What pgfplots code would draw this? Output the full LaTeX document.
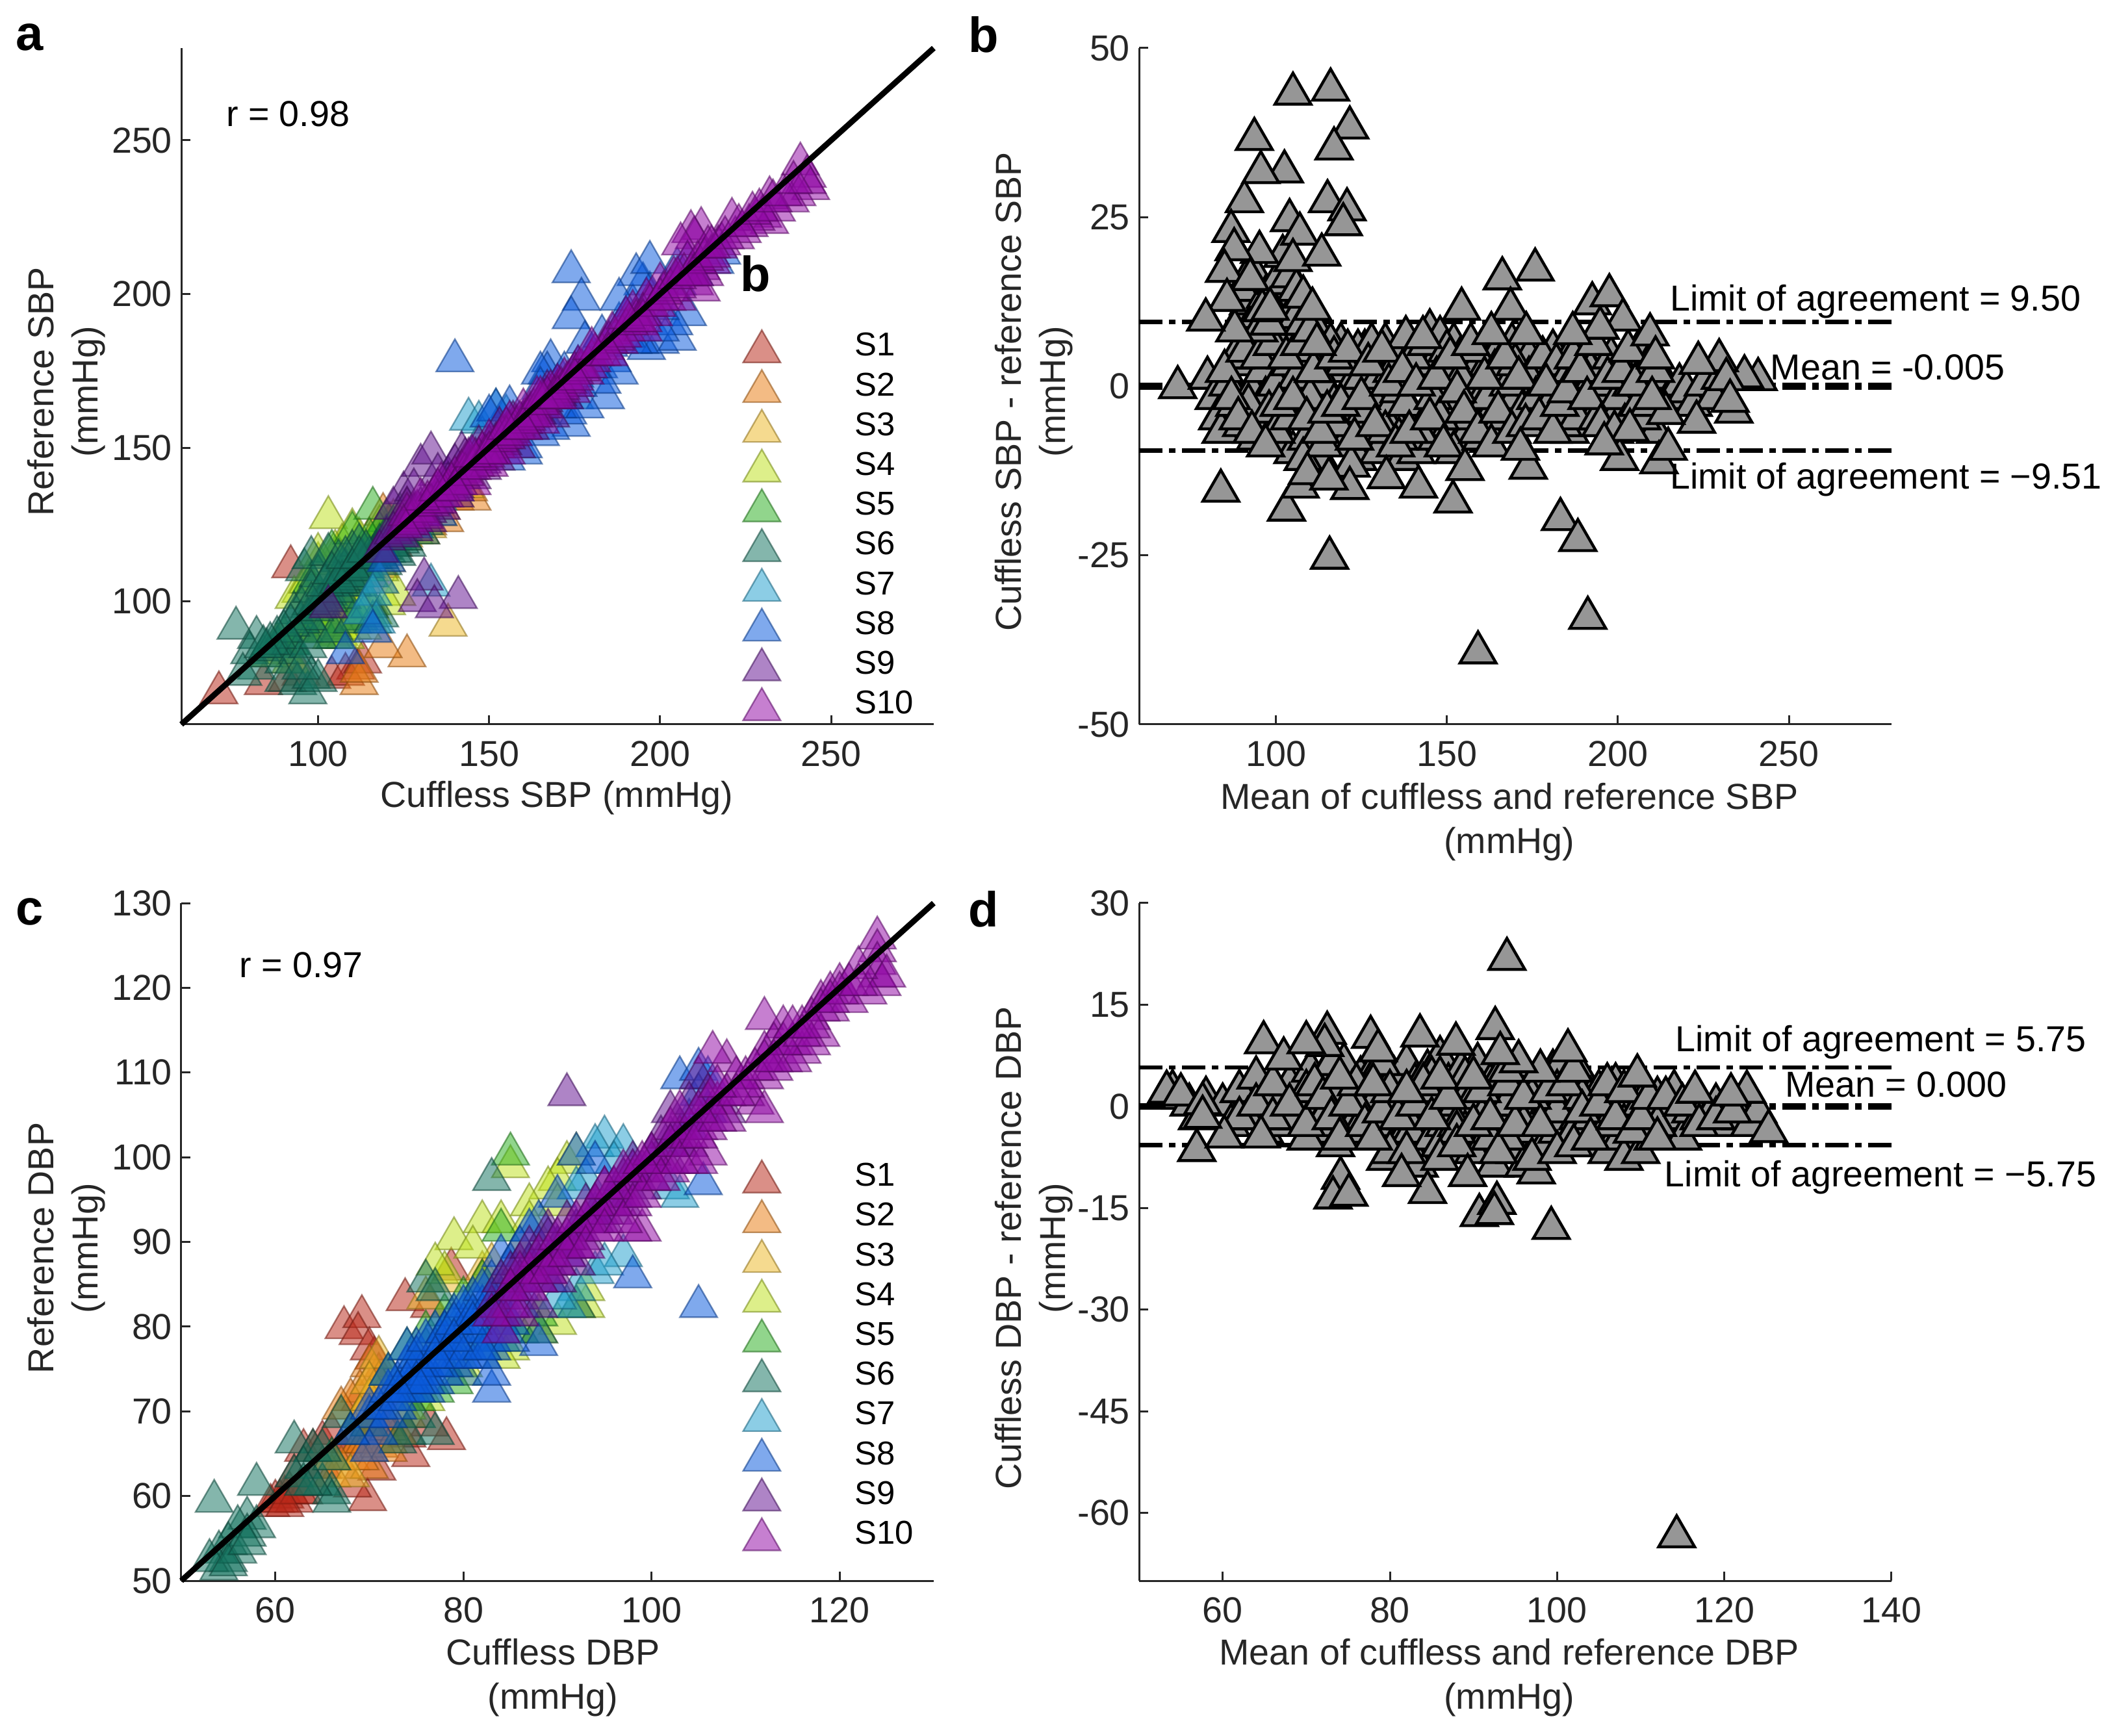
\documentclass[border=0pt]{standalone}
\usepackage{fontspec}
\setmainfont{Liberation Sans}
\usepackage{pgfplots}
\pgfplotsset{compat=1.18}
\definecolor{axc}{rgb}{0.15,0.15,0.15}
\definecolor{cA}{RGB}{185,40,25}
\definecolor{cB}{RGB}{232,125,20}
\definecolor{cC}{RGB}{235,185,40}
\definecolor{cD}{RGB}{190,225,30}
\definecolor{cE}{RGB}{45,175,35}
\definecolor{cF}{RGB}{20,115,95}
\definecolor{cG}{RGB}{35,160,205}
\definecolor{cH}{RGB}{10,90,220}
\definecolor{cI}{RGB}{100,20,145}
\definecolor{cJ}{RGB}{145,10,165}
\definecolor{gr}{RGB}{150,150,150}
\newcommand\fs{\fontsize{13.9}{17}\selectfont}
\tikzset{note/.style={font=\fs,text=black,inner sep=0pt},
  let/.style={font=\bfseries\fontsize{19}{22}\selectfont}}
\pgfplotsset{
  pan/.style={scale only axis,width=289.5pt,axis lines=left,axis line style={-,color=axc,line width=.75pt},
    tick align=inside,major tick length=3.5pt,tick style={color=axc,line width=.75pt},clip=false,clip marker paths=true,
    /pgf/number format/assume math mode=true,
    tick label style={font=\fs,text=axc},
    xticklabel style={yshift=-3pt},
    label style={font=\fs,text=axc,align=center},
    legend cell align=left},
  leg/.style={legend style={draw=none,fill=none,at={(rel axis cs:0.746,#1)},anchor=north west,font=\fontsize{12.7}{15}\selectfont,
    inner sep=0pt,row sep=0pt,column sep=28.5pt,nodes={inner sep=0pt,minimum height=15.3pt,anchor=west}}},
  ser/.style={only marks,mark=triangle*,mark size=8.3pt,color=#1,
    mark options={fill=#1,draw=#1!60!black,fill opacity=.52,draw opacity=.55,line width=.6pt,yshift=-2pt}},
  gry/.style={only marks,mark=triangle*,mark size=8pt,color=black,
    mark options={fill=gr,draw=black,line width=1.1pt,yshift=-2pt}},
  dd/.style={black,line width=#1,dash pattern=on 9pt off 2.5pt on 2.5pt off 2.5pt,no marks}
}
\begin{document}
\begin{tikzpicture}
\useasboundingbox (0,0) rectangle (809.5pt,667.75pt);
%% panel a
\begin{axis}[pan,at={(69.75pt,389pt)},anchor=south west,height=260.25pt,
  xmin=60,xmax=280,ymin=60,ymax=280,xtick={100,150,200,250},ytick={100,150,200,250},
  xlabel={Cuffless SBP (mmHg)},ylabel={Reference SBP\\(mmHg)},
  xlabel style={at={(axis description cs:.499,-.109)},anchor=center},
  ylabel style={at={(axis description cs:-.153,.492)},anchor=center},leg=0.589]
\addplot[ser=cA] coordinates {(71,72)(84,75)(92,113)(111,80)(104,77)(91,76)(95,78)(108,78)(100,100)(105,103)(112,110)(118,113)(122,120)(115,112)(98,96)(113,82)(118,108)(108,105)(126,132)(121,125)};
\addplot[ser=cB] coordinates {(126,84)(119,87)(112,75)(112,79)(113,108)(119,130)(121,127)(124,128)(128,130)(132,127)(136,132)(140,135)(145,135)(125,122)(137,128)(130,124)(144,138)};
\addplot[ser=cC] coordinates {(138,94)(110,112)(115,120)(118,126)(122,128)(125,123)(128,125)(135,130)(104,110)(100,93)(95,92)(108,105)(112,100)(120,115)(140,136)(143,139)(132,126)};
\addplot[ser=cD] coordinates {(103,129)(123,104)(110,125)(112,122)(107,120)(105,118)(100,114)(95,105)(93,103)(97,108)(100,117)(88,88)(90,85)(92,82)(95,92)(98,94)(103,97)(108,96)(110,93)(106,91)(114,96)(113,100)(116,98)(120,101)(110,105)(104,90)(102,92)(86,84)(108,114)(116,120)(122,124)(125,127)(128,124)(115,117)(118,112)(105,96)(107,93)(109,98)(111,95)(113,93)(115,101)(112,98)(108,90)(104,94)(110,100)};
\addplot[ser=cE] coordinates {(116,132)(120,128)(122,126)(124,130)(118,124)(96,92)(100,95)(108,100)(112,96)(114,112)(106,110)(102,102)(98,108)(104,118)(110,124)(115,122)(105,90)(92,88)(90,90)};
\addplot[ser=cF] coordinates {(76,93)(82,90)(80,85)(82,80)(78,78)(84,84)(85,86)(88,87)(92,88)(90,82)(94,85)(97,87)(90,76)(94,75)(97,72)(98,77)(100,76)(95,80)(100,90)(105,92)(110,95)(116,95)(118,97)(115,100)(112,107)(96,112)(98,116)(100,110)(95,100)(93,98)(103,117)(105,108)(108,112)(110,118)(113,115)(115,110)(118,120)(120,118)(122,122)(125,125)(128,126)(130,124)(126,120)(123,117)(119,114)(116,116)(112,120)(106,115)(103,104)(100,100)(98,105)(107,103)(110,107)(114,113)(117,118)(120,123)(124,121)(127,129)(131,127)(95,95)(97,96)(99,99)(101,101)(103,102)(105,105)(107,108)(109,109)(111,110)(113,113)(115,116)(117,117)(119,119)(121,120)(123,123)(125,122)(98,101)(102,107)(104,111)(106,108)(108,116)(110,112)(112,116)(114,118)(118,116)(122,118)(92,94)(90,92)(88,90)(86,88)(84,87)};
\addplot[ser=cG] coordinates {(144,161)(133,107)(147,160)(152,164)(148,155)(155,162)(118,108)(116,104)(117,95)(113,98)(140,140)(135,135)(128,126)(165,163)(175,168)};
\addplot[ser=cH] coordinates {(174,209)(177,200)(174,194)(140,180)(184,168)(174,159)(173,163)(160,150)(168,180)(167,176)(165,176)(170,172)(176,178)(180,182)(182,178)(186,180)(190,194)(192,198)(195,205)(197,202)(188,176)(196,184)(200,186)(205,187)(208,195)(204,192)(200,190)(194,186)(208,212)(205,210)(218,215)(216,212)(176,172)(172,168)(170,165)(168,158)(165,156)(156,165)(152,164)(150,162)(150,150)(155,148)(160,152)(145,148)(140,138)(135,130)(130,130)(120,115)(116,92)(108,85)(178,165)(183,173)(150,152)(155,155)(160,160)(165,165)(170,170)(175,175)(180,178)(185,185)(190,188)(195,195)(200,197)(205,205)(210,208)(165,171)(172,176)(178,186)(183,188)(188,192)(192,186)(193,208)(197,212)(188,200)};
\addplot[ser=cI] coordinates {(141,103)(131,109)(129,102)(134,100)(103,100)(125,137)(122,132)(130,146)(133,150)(135,143)(128,138)(126,132)(132,128)(136,132)(140,136)(138,142)(142,150)(140,146)(145,142)(148,145)(150,150)(152,148)(155,156)(158,152)(160,158)(162,158)(165,166)(168,162)(170,170)(172,168)(167,170)(163,164)(157,160)(153,158)(147,152)(143,148)(120,122)(118,118)(124,126)(128,125)(122,124)(124,123)(126,127)(128,130)(130,132)(132,131)(134,134)(136,136)(138,140)(140,139)(142,142)(144,145)(146,148)(148,147)(150,152)(152,153)(154,153)(156,157)(158,159)(160,160)(162,163)(164,163)(166,167)(168,168)(170,169)};
\addplot[ser=cJ] coordinates {(241,244)(243,240)(244,236)(240,234)(238,232)(243,238)(232,233)(234,229)(230,227)(232,225)(228,226)(226,224)(221,226)(222,220)(224,222)(218,218)(212,223)(209,222)(210,220)(206,218)(214,217)(212,210)(208,212)(204,207)(210,205)(212,203)(213,208)(200,205)(196,200)(198,195)(202,200)(192,196)(190,190)(194,192)(186,189)(184,184)(188,186)(180,180)(176,178)(178,176)(172,174)(174,170)(170,172)(168,170)(166,165)(164,168)(162,162)(160,164)(158,158)(156,160)(154,155)(152,152)(150,154)(148,150)(146,146)(144,148)(142,144)(140,142)(138,138)(136,140)(134,136)(132,134)(130,130)(128,128)(126,130)(145,140)(150,146)(155,150)(165,160)(175,172)(195,190)(205,200)(215,212)
(127,127)(129,131)(131,129)(133,133)(135,134)(137,136)(139,140)(141,140)(143,143)(145,145)(147,148)(149,149)(151,150)(153,154)(155,155)(157,156)(159,160)(161,161)(163,162)(165,166)(167,168)(169,168)(171,171)(173,173)(175,176)(177,177)(179,178)(181,182)(183,182)(185,186)(187,187)(189,188)(191,192)(193,193)(195,195)(197,198)(199,198)(201,202)(203,203)(205,204)(207,208)(209,208)(211,212)(213,213)(215,214)(217,217)(219,220)(223,224)(227,228)(229,229)(233,232)(236,234)(239,238)(130,135)(135,138)(140,138)(145,149)(150,150)(155,158)(160,158)(165,168)(170,168)(175,174)(180,184)(185,182)(190,194)(195,193)(200,200)(205,207)(210,208)(215,217)(125,126)};
\addplot[black,line width=2.2pt,no marks] coordinates {(60,60)(280,280)};
\legend{S1,S2,S3,S4,S5,S6,S7,S8,S9,S10}
\node[note,anchor=west] at (axis description cs:.059,.903) {r = 0.98};
\end{axis}
%% panel b
\begin{axis}[pan,at={(438.25pt,389pt)},anchor=south west,height=260.25pt,
  xmin=60,xmax=280,ymin=-50,ymax=50,xtick={100,150,200,250},ytick={-50,-25,0,25,50},
  xlabel={Mean of cuffless and reference SBP\\(mmHg)},ylabel={Cuffless SBP - reference SBP\\(mmHg)},
  xlabel style={at={(axis description cs:.492,-.144)},anchor=center},
  ylabel style={at={(axis description cs:-.14,.492)},anchor=center}]
\addplot[dd=1.7pt] coordinates {(60,9.5)(280,9.5)};
\addplot[dd=1.7pt] coordinates {(60,-9.51)(280,-9.51)};
\addplot[dd=2.6pt] coordinates {(60,-0.005)(280,-0.005)};
\addplot[gry] coordinates {(71.3,0.6)(80,2)(82,-1)(83,-4)(84,-6)(86,1)(88,-2)(90,4)(91,-3)(92,7)(93,0)(94,9)(95,-5)(96,3)(97,-1)(98,6)(99,-6)(100,1)(101,9)(102,-3)(103,-8)(104,4)(105,-9)(106,8)(107,-2)(108,2)(109,-7)(110,6)(111,-4)(112,9)(113,-10)(114,1)(115,5)(116,-6)(117,-2)(118,3)(119,7)(120,-8)(121,0)(122,5)(123,-4)(124,-10)(125,2)(126,6)(127,-7)(128,-1)(129,4)(130,-9)(131,1)(132,7)(133,-3)(134,-6)(135,5)(136,0)(137,-10)(138,8)(139,3)(140,-5)(141,-9)(142,6)(143,1)(144,-3)(145,9)(146,4)(147,-7)(148,8)(149,0)(150,3)(151,-5)(152,7)(153,-2)(154,5)(155,-7)(156,1)(157,-4)(158,3)(159,-2)(160,6)(161,-5)(162,4)(163,0)(164,-1)(165,6)(166,2)(167,-3)(168,4)(169,7)(170,-1)(172,3)(174,5)(175,-2)(176,1)(178,3)(180,-3)(181,6)(182,-1)(183,2)(184,-4)(185,4)(186,-6)(187,1)(188,7)(189,-3)(190,0)(191,5)(192,-5)(193,2)(194,6)(195,-2)(196,3)(197,-7)(198,0)(199,4)(200,-3)(201,1)(202,5)(203,-1)(204,3)(205,-4)(206,6)(207,0)(208,-2)(209,4)(210,2)(211,-6)(212,-1)(213,2)(215,-1)(218,1)(220,0)(222,-2)(225,1)(228,-1)(230,2)
(88,5)(90,-5)(92,-2)(94,-7)(96,8)(98,-3)(100,-6)(102,6)(104,-4)(106,2)(108,-10)(110,-1)(112,3)(114,-8)(116,7)(118,-5)(120,4)(122,-11)(124,6)(126,-3)(128,7)(130,2)(132,-6)(134,3)(136,-7)(138,-2)(140,5)(142,-6)(144,7)(146,-1)(148,-4)(150,6)(152,-9)(154,2)(156,-3)(158,6)(160,-7)(162,-1)(164,3)(166,-4)(168,1)(170,4)(172,-3)(174,2)(176,-1)(178,5)(180,-2)(182,4)(184,-5)(186,3)(188,-4)(190,5)(192,3)(194,-4)(196,1)(198,5)(200,-1)(202,-5)(204,1)(206,-2)
(85,3)(87,-1)(89,-4)(91,6)(93,-6)(95,5)(97,-8)(99,7)(101,-2)(103,5)(105,-1)(107,7)(109,-4)(111,3)(113,-6)(115,-3)(117,5)(119,-2)(121,6)(123,-7)(125,-1)(127,4)(129,-5)(131,6)(133,1)(135,-8)(137,3)(139,-6)(141,1)(143,8)(145,-4)(147,2)(149,-8)(151,5)(153,0)(155,-3)(157,7)(159,-6)(161,2)(163,-8)(165,-3)(167,5)(169,-6)(171,2)(173,-5)(177,-4)(179,1)(181,-6)(183,-2)(185,0)(187,5)(189,3)(191,-1)(193,7)(195,-5)(197,2)(199,-6)(201,3)(203,6)(205,1)(207,-4)(209,-2)(211,3)(90,11)(92,13)(94,11)(98,14)(100,10)(102,13)(104,11)(106,11)(108,10)(110,9)(112,7)(95,9)(88,9)
(90,15)(93,18)(97,14)(100,16)(102,20)(104,17)(106,15)(108,14)(98,10)(96,12)
(105,44)(116,44.6)(121.6,39)(117,35.9)(93.7,37.3)(102.5,32.5)(95.6,32.4)(90.8,28.1)(115.1,28.1)(120.8,26.9)(119.7,24.7)(104,25.3)(107,23.3)(86.9,23.7)(95.2,20.6)(87.8,21)(85,17.8)(105,19.4)(113.4,20.2)(92.5,16.6)(85.7,13.5)(98.3,12.2)(110.7,12.2)(79.5,10.6)(166.2,16.7)(175.8,18)(154.3,12.2)(168.6,12.2)(192.5,13)(197.5,14.2)(201.5,10.6)(209.4,8.4)(194.8,9.4)(186.8,8.6)(173.2,8.6)(163,8.6)
(83.9,-14.7)(103.1,-17.5)(115.7,-24.6)(159.1,-38.6)(191.2,-33.5)(183.2,-18.9)(188.3,-22)(151.8,-16.3)(141.7,-14.1)(132.3,-12.7)(121.6,-14.3)(107.1,-14.1)(109.2,-12.1)(115.5,-12.9)(173.8,-11.3)(155.3,-11.5)(212,-10.5)(214.7,-8.5)(200.5,-10)(171.5,-8.5)
(223,-4.5)(233.9,-3)(241,1.8)(237,2.2)(229.6,4.6)(223.5,4.2)(231.7,1.8)(232.8,-1.4)(214,-3.2)(203.5,-5.7)(196,-7.7)(211,5)(210,-1)};
\node[note,anchor=west] at (axis cs:215.1,12.5) {Limit of agreement = 9.50};
\node[note,anchor=west] at (axis cs:244.5,2.8) {Mean = -0.005};
\node[note,anchor=west] at (axis cs:215.1,-13.8) {Limit of agreement = −9.51};
\end{axis}
%% panel c
\begin{axis}[pan,at={(69.75pt,59.5pt)},anchor=south west,height=260.75pt,
  xmin=50,xmax=130,ymin=50,ymax=130,xtick={60,80,100,120},ytick={50,60,...,130},
  xlabel={Cuffless DBP\\(mmHg)},ylabel={Reference DBP\\(mmHg)},
  xlabel style={at={(axis description cs:.494,-.143)},anchor=center},
  ylabel style={at={(axis description cs:-.153,.491)},anchor=center},leg=0.6265]
\addplot[ser=cA] coordinates {(73.8,83.8)(67.3,80.5)(69.2,81.8)(68.8,79.8)(70.5,76.9)(78.7,87.4)(76.4,83)(69.8,60.2)(68.2,61.8)(70.8,63.8)(74.4,65.4)(78.2,67.4)(76.4,69)(74,67.7)(60,60)(61,60.5)(62,60)(63,61)(64,62)(59.5,59.5)(62,63)(63,66)(64,66)(65,67)(66,68)(65,64)(67,66)(68,67)(70,68)(72,69)(74,72)(69,72)(71,75)(70,78)(60.5,60)(61.5,61)(62.5,61)(61,59.5)};
\addplot[ser=cB] coordinates {(70,76)(70.5,75)(71,74)(69,73)(68,72)(67,71)(68,65)(70,66)(71,68)(69,67)(72,67)(73,68)(67,64)(66,63)(70,64)(71,69)(74,70)(69.5,67)(71,66.5)(70,68)(72,68.5)(70,72)(69,70)(71,72)(72,66)(69,65)(71,70)};
\addplot[ser=cC] coordinates {(68,63)(66,65)(69,70)(70,72)(71,77)(70,74)(78,86)(76,84)(82,87)(83,88)(82,86)(86,90)};
\addplot[ser=cD] coordinates {(85,99.5)(91,100)(79,91)(82,93)(84,93)(81,90)(90,98)(92,101)(89,97)(87,95)(78,87)(77,88)(90,81)(88,80)(92,83)(93,83)(85,78)(84,77)(80,76)(76,72)(74,71)(93,85)(87,93)(90,95)};
\addplot[ser=cE] coordinates {(85,101)(84,92)(82,86)(80,84)(78,82)(76,80)(74,78)(84,79)(85,81)(83,80)(79,74)(77,73)(72,75)(78,80)(80,79)(82,78)(84,81)(76,78)(75,72)(86,80)(88,82)};
\addplot[ser=cF] coordinates {(53.5,60)(58,62)(57,58)(56,57)(58,57)(55,55)(54,54)(55,53)(54,52)(57,56)(53,53)(56,54)(55,52.5)(57,55)(62,67)(64,66)(63,64)(62,63)(65,62)(66,61)(66,60)(64,62)(67,70)(68,68)(75,70)(77,68)(76,86)(77,85)(83,98)(92,83)(88,80)(70,69)(73,67)(74,68)(66,65)(65,66)(63,62)(75,73)(78,76)(80,75)};
\addplot[ser=cG] coordinates {(97,89)(92,85)(94,87)(95,88)(91,83)(90,84)(95,103)(94,102)(97,102)(93,98)(92,97)(102,97)(103,96)(96,100)(88,90)(78,80)(74,75)(80,82)(84,85)(87,88)};
\addplot[ser=cH] coordinates {(105,83)(98,86.5)(105.5,97.5)(88,78.5)(83,79)(85,81)(92,101)(94,100)(90,96)(88,93)(87,92)(86,90)(84,89)(103,110)(105,111)(106,110)(72,72)(74,73)(75,75)(76,76)(78,78)(80,80)(82,82)(84,83)(86,85)(73,74)(75,78)(77,80)(79,82)(81,84)(83,86)(85,88)(77,74)(79,76)(81,77)(83,78)(80,78)(82,80)(78,75)(76,73)(70,70)(71,68)(73,71)(74,76)(75,77)(77,78)(70,66)(100,100)(102,102)(104,105)(106,106)(98,99)(96,96)(94,94)(92,92)(90,90)(88,88)(86,86)(104,104)(105,108)(91,89)(89,86)(84,80)(68,68)(72,70)(75,73)(85,79)(83,73)(83,75)(82,77)
(70,71)(71,71)(72,73)(73,72)(74,74)(75,76)(76,75)(77,76)(78,79)(79,78)(80,81)(81,80)(82,83)(83,82)(84,84)(85,85)(72,75)(74,78)(76,79)(78,80)(80,83)(82,85)(76,74)(78,77)(80,77)(82,78)(84,82)(86,83)(79,81)(81,82)(77,77)(75,74)(73,73)(83,84)(81,81)(79,79)};
\addplot[ser=cI] coordinates {(91,108)(102,106)(103,104)(105,110)(106,108)(108,106)(84,82)(86,84)(88,86)(90,90)(92,92)(94,95)(96,97)(98,100)(100,101)(102,103)(104,107)(85,85)(87,88)(89,87)(91,90)(93,91)(95,93)(97,95)(99,97)(83,83)(88,83)(90,86)(92,88)(86,88)(84,86)(89,92)(86,86)(88,88)(90,88)(92,90)(94,93)(96,94)(98,96)(100,98)(102,100)(104,102)(106,105)(85,87)(87,90)(89,91)(91,93)(93,95)(95,97)(97,98)(99,99)(101,103)(103,102)};
\addplot[ser=cJ] coordinates {(124,126.5)(124,125)(124,123.5)(124,122)(124.5,121)(125,122)(123,120)(120,121)(118,119)(119,118)(117,117)(116,116)(118,115)(115,114)(114,116)(112,117)(113,114)(114,112)(112,110)(111,107)(110,108)(112,106)(113,111)(108,112)(106.5,113)(109,110)(107,107)(105,104)(103,103)(104,100)(106,101)(101,100)(102,99)(100,98)(98,98)(97,96)(99,92)(98,92)(96,95)(94,92)(92,90)(90,88)(88,86)(86,82)(84,80)(108,105)(106,104)(110,110)(116,113)(122,123)(121,119)(95,94)(93,93)(91,91)(89,89)(87,87)(85,83)(112,113)(119,120)(115,112)(117,114)(102,104)(100,100)(98,95)(105,100)(121,121)
(88,89)(90,91)(92,93)(94,95)(96,97)(98,99)(100,101)(102,102)(104,103)(106,107)(108,108)(110,109)(112,112)(114,114)(116,115)(118,118)(120,120)(122,121)(86,87)(87,85)(89,87)(91,89)(93,90)(95,92)(97,93)(99,96)(101,98)(103,100)(105,103)(107,105)(109,108)(111,111)(113,112)(115,116)(117,116)(119,119)(85,85)(83,82)(95,97)(97,99)(99,100)(103,106)(105,106)(107,109)};
\addplot[black,line width=2.2pt,no marks] coordinates {(50,50)(130,130)};
\legend{S1,S2,S3,S4,S5,S6,S7,S8,S9,S10}
\node[note,anchor=west] at (axis description cs:.0766,.909) {r = 0.97};
\end{axis}
%% panel d
\begin{axis}[pan,at={(438.25pt,59.5pt)},anchor=south west,height=260.75pt,
  xmin=50,xmax=140,ymin=-70,ymax=30,xtick={60,80,100,120,140},ytick={-60,-45,-30,-15,0,15,30},
  xlabel={Mean of cuffless and reference DBP\\(mmHg)},ylabel={Cuffless DBP - reference DBP\\(mmHg)},
  xlabel style={at={(axis description cs:.492,-.143)},anchor=center},
  ylabel style={at={(axis description cs:-.14,.491)},anchor=center}]
\addplot[dd=1.7pt] coordinates {(50,5.75)(140,5.75)};
\addplot[dd=1.7pt] coordinates {(50,-5.75)(140,-5.75)};
\addplot[dd=2.6pt] coordinates {(50,0)(140,0)};
\addplot[gry] coordinates {(54,3)(55,2)(56,1)(57,-1)(58,2)(60,1)(61,-2)(62,3)(63,-1)(64,5)(65,-3)(66,2)(67,-2)(68,4)(69,-1)(70,1)(70.5,6)(71,-3)(72,5)(72.5,-2)(73,3)(73.5,-5)(74,0)(74.5,7)(75,-3)(75.5,3)(76,-1)(76.5,5)(77,-4)(77.5,1)(78,6)(78.5,-2)(79,3)(79.5,-7)(80,0)(80.5,5)(81,-5)(81.5,2)(82,7)(82.5,-3)(83,4)(83.5,-8)(84,0)(84.5,6)(85,-4)(85.5,2)(86,8)(86.5,-2)(87,4)(87.5,-6)(88,1)(88.5,6)(89,-3)(89.5,3)(90,-6)(90.5,7)(91,0)(91.5,-4)(92,4)(92.5,-8)(93,2)(93.5,6)(94,-2)(94.5,4)(95,-6)(95.5,1)(96,-8)(96.5,5)(97,-3)(97.5,-9)(98,2)(98.5,-5)(99,0)(99.5,6)(100,-3)(100.5,7)(101,1)(101.5,-4)(102,4)(102.5,-1)(103,5)(103.5,-5)(104,2)(104.5,-2)(105,3)(105.5,-1)(106,-6)(106.5,1)(107,4)(107.5,-4)(108,-7)(108.5,2)(109,-1)(109.5,5)(110,-6)(110.5,3)(111,-1)(111.5,-4)(112,2)(113,-1)(114,3)(115,-4)(116,0)(117,-1)(118,-1)(119,1)(120,-2)(121,1)(122,-1)(123,-2)(124,0)
(62,-1)(64,1)(66,4)(68,-1)(70,-4)(72,-1)(74,3)(76,-3)(78,1)(80,-6)(82,-1)(84,3)(86,-5)(88,-2)(90,2)(92,-4)(94,1)(96,-2)(98,4)(100,0)(102,-3)(104,-1)(106,3)(108,-2)(110,1)(112,-2)(70,3)(73,7)(76,1)(79,7)(82,-1)(85,5)(88,-3)(91,-1)(94,-4)(97,2)(100,3)(103,2)(106,-2)
(66,-1)(68,1)(70,-2)(71,4)(72,2)(73,-1)(74,-4)(75,1)(76,4)(77,-2)(78,-4)(79,0)(80,3)(81,-1)(82,-6)(83,1)(84,4)(85,-1)(86,-7)(87,2)(88,-5)(89,5)(90,-2)(91,3)(92,-1)(93,-6)(94,4)(95,-2)(96,2)(97,-7)(98,-2)(99,3)(100,-6)(101,4)(102,-5)(103,0)(104,-4)(105,1)(106,4)(107,-1)(108,3)(109,-3)(110,-1)(111,2)(112,-4)(113,2)(115,1)(117,-2)(119,-1)(121,0)(74,5)(78,4)(82,3)(86,5)(90,5)(94,6)(98,6)(102,6)
(94,22.5)(114.3,-62.7)(99.3,-17.2)(90.7,-15.3)(92.8,-13.5)(92.5,-15)(74.1,-9.8)(73.2,-12.7)(75.1,-12.3)(84.5,-11.9)(89.3,-9.4)(81.4,-9.4)(92.6,12.3)(83.6,11.2)(72.5,11.6)(72.2,9.8)(64.9,10.2)(77.7,11)(78.6,9)(87.9,10)(101.3,9)(67.3,7.8)(70,10.2)(95.4,7.4)(93.2,8.6)(56.9,-5.7)(60.2,-3.7)(64.6,-3.7)(125.3,-2.9)(122.7,2.9)(116.5,2.9)(120.8,2.5)(109.6,5.3)(53.3,2.9)(55,2.5)(57.6,1.2)(57.6,-0.8)};
\node[note,anchor=west] at (axis cs:127.2,3.2) {Mean = 0.000};
\node[note,anchor=west] at (axis cs:114.1,9.5) {Limit of agreement = 5.75};
\node[note,anchor=west] at (axis cs:112.8,-10.5) {Limit of agreement = −5.75};
\end{axis}
\node[let] at (11.4pt,653.3pt) {a};
\node[let] at (378.4pt,654.5pt) {b};
\node[let] at (290.6pt,562.5pt) {b};
\node[let] at (11.4pt,317pt) {c};
\node[let] at (378.4pt,318pt) {d};
\end{tikzpicture}
\end{document}
